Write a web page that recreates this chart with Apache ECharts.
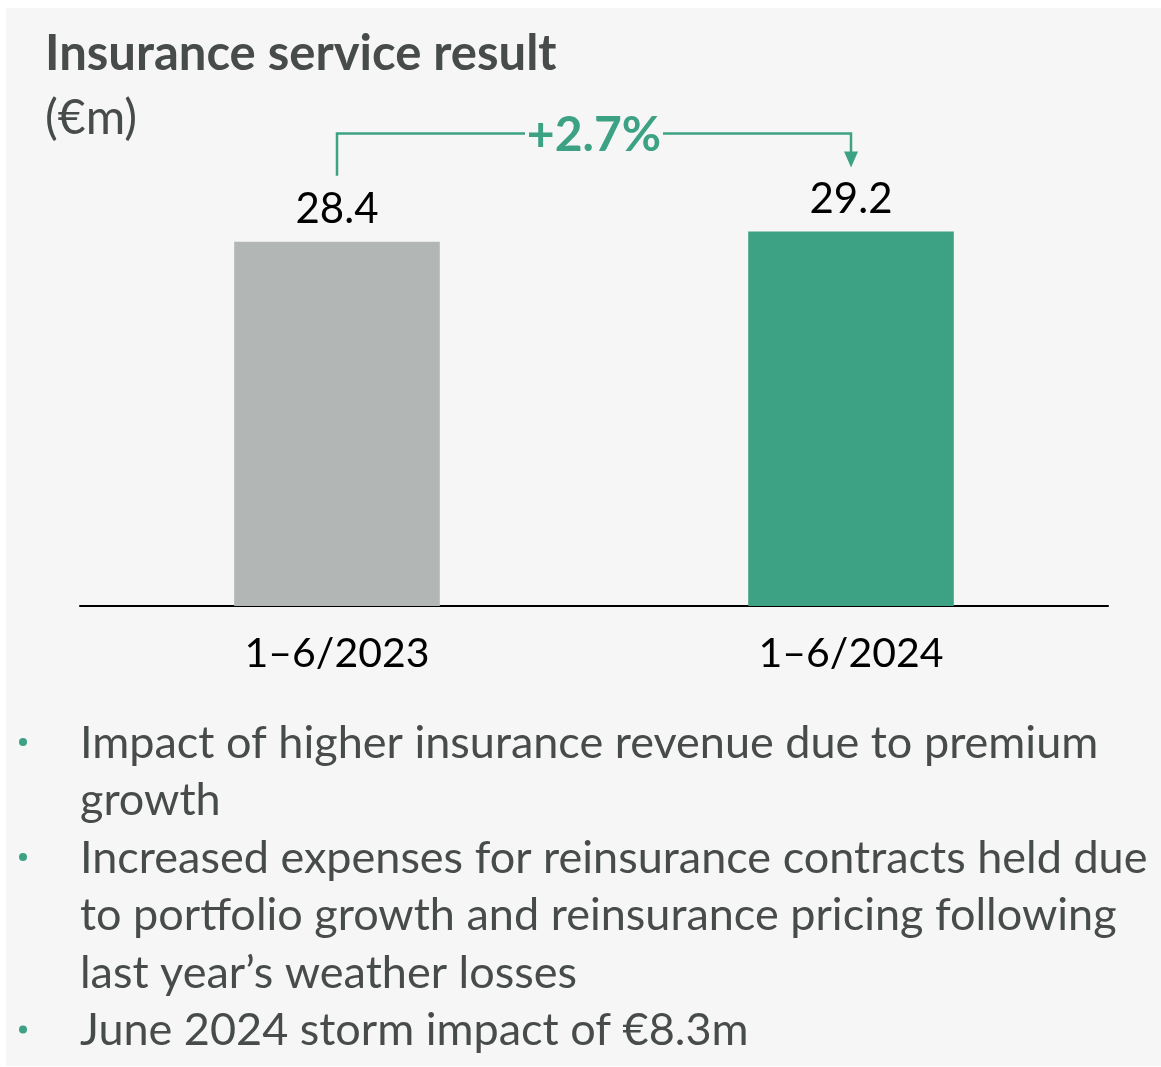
<!DOCTYPE html>
<html>
<head>
<meta charset="utf-8">
<script src="https://cdn.jsdelivr.net/npm/echarts@6/dist/echarts.min.js"></script>
<style>
  html, body { margin: 0; padding: 0; background: #ffffff; }
  #main { width: 1161px; height: 1067px; }
</style>
</head>
<body>
<div id="main"></div>
<script>
var categories = ['1–6/2023', '1–6/2024'];
var values = [28.4, 29.2];
var barColors = ['#b2b7b6', '#3ca283'];
var changeLabel = '+2.7%';
var bullets = [
    ['Impact of higher insurance revenue due to premium', 'growth'],
    ['Increased expenses for reinsurance contracts held due', 'to portfolio growth and reinsurance pricing following', 'last year’s weather losses'],
    ['June 2024 storm impact of €8.3m']
];

var FONT = 'Lato, "Open Sans", sans-serif';
var GREEN = '#3ca283';
var TEXT = '#474c4b';

var myChart = echarts.init(document.getElementById('main'));

// bullet list under the chart
function bulletGraphics() {
    var els = [];
    var y = 743;
    var lineH = 57.5;
    bullets.forEach(function (lines) {
        els.push({
            type: 'circle',
            shape: { cx: 23, cy: y - 1, r: 4 },
            style: { fill: GREEN }
        });
        lines.forEach(function (t) {
            els.push({
                type: 'text',
                x: 80, y: y,
                style: {
                    text: t, fill: TEXT, font: '45px ' + FONT,
                    textVerticalAlign: 'middle'
                }
            });
            y += lineH;
        });
    });
    return els;
}

var option = {
    backgroundColor: '#ffffff',
    animation: false,
    title: [{
        text: 'Insurance service result',
        left: 40, top: 25,
        textStyle: { fontFamily: FONT, fontSize: 49, fontWeight: 'bold', color: TEXT }
    }, {
        text: '(€m)',
        left: 40, top: 90,
        textStyle: { fontFamily: FONT, fontSize: 48, fontWeight: 'normal', color: TEXT }
    }],
    grid: { left: 80, right: 53, top: 93, bottom: 461 },
    xAxis: {
        type: 'category',
        data: categories,
        axisLine: { lineStyle: { color: '#000', width: 2 } },
        axisTick: { show: false },
        axisLabel: { fontFamily: FONT, fontSize: 41, color: '#000', margin: 27 }
    },
    yAxis: {
        type: 'value', min: 0, max: 40, show: false,
        splitLine: { show: false }
    },
    series: [{
        type: 'bar',
        barWidth: '40%',
        data: values.map(function (v, i) {
            return { value: v, itemStyle: { color: barColors[i] } };
        }),
        label: {
            show: true, position: 'top', distance: 11,
            fontFamily: FONT, fontSize: 42, color: '#000',
            formatter: function (p) { return p.value.toFixed(1); }
        }
    }]
};
myChart.setOption(option);

// bracket with percentage change, anchored to the bar tops
var p0 = myChart.convertToPixel({ seriesIndex: 0 }, [0, values[0]]);
var p1 = myChart.convertToPixel({ seriesIndex: 0 }, [1, values[1]]);
var by = p1[1] - 98;
var midX = (p0[0] + p1[0]) / 2;
var gapHalf = 69;
var lineStyle = { stroke: GREEN, lineWidth: 2.5, fill: null };
var graphics = [{
    type: 'rect', z: -10,
    shape: { x: 6, y: 8, width: 1161, height: 1058 },
    style: { fill: '#f6f6f6' }
}, {
    type: 'polyline',
    shape: { points: [[p0[0], p0[1] - 66], [p0[0], by], [midX - gapHalf, by]] },
    style: lineStyle
}, {
    type: 'polyline',
    shape: { points: [[midX + gapHalf, by], [p1[0], by], [p1[0], p1[1] - 78]] },
    style: lineStyle
}, {
    type: 'polygon',
    shape: { points: [[p1[0] - 7, p1[1] - 80], [p1[0] + 7, p1[1] - 80], [p1[0], p1[1] - 64]] },
    style: { fill: GREEN }
}, {
    type: 'text',
    x: midX, y: by + 2,
    style: {
        text: changeLabel, fill: GREEN, font: 'bold 48px ' + FONT,
        textAlign: 'center', textVerticalAlign: 'middle'
    }
}].concat(bulletGraphics());
myChart.setOption({ graphic: graphics });

window.addEventListener('resize', function () {
    myChart.resize();
});
</script>
</body>
</html>
